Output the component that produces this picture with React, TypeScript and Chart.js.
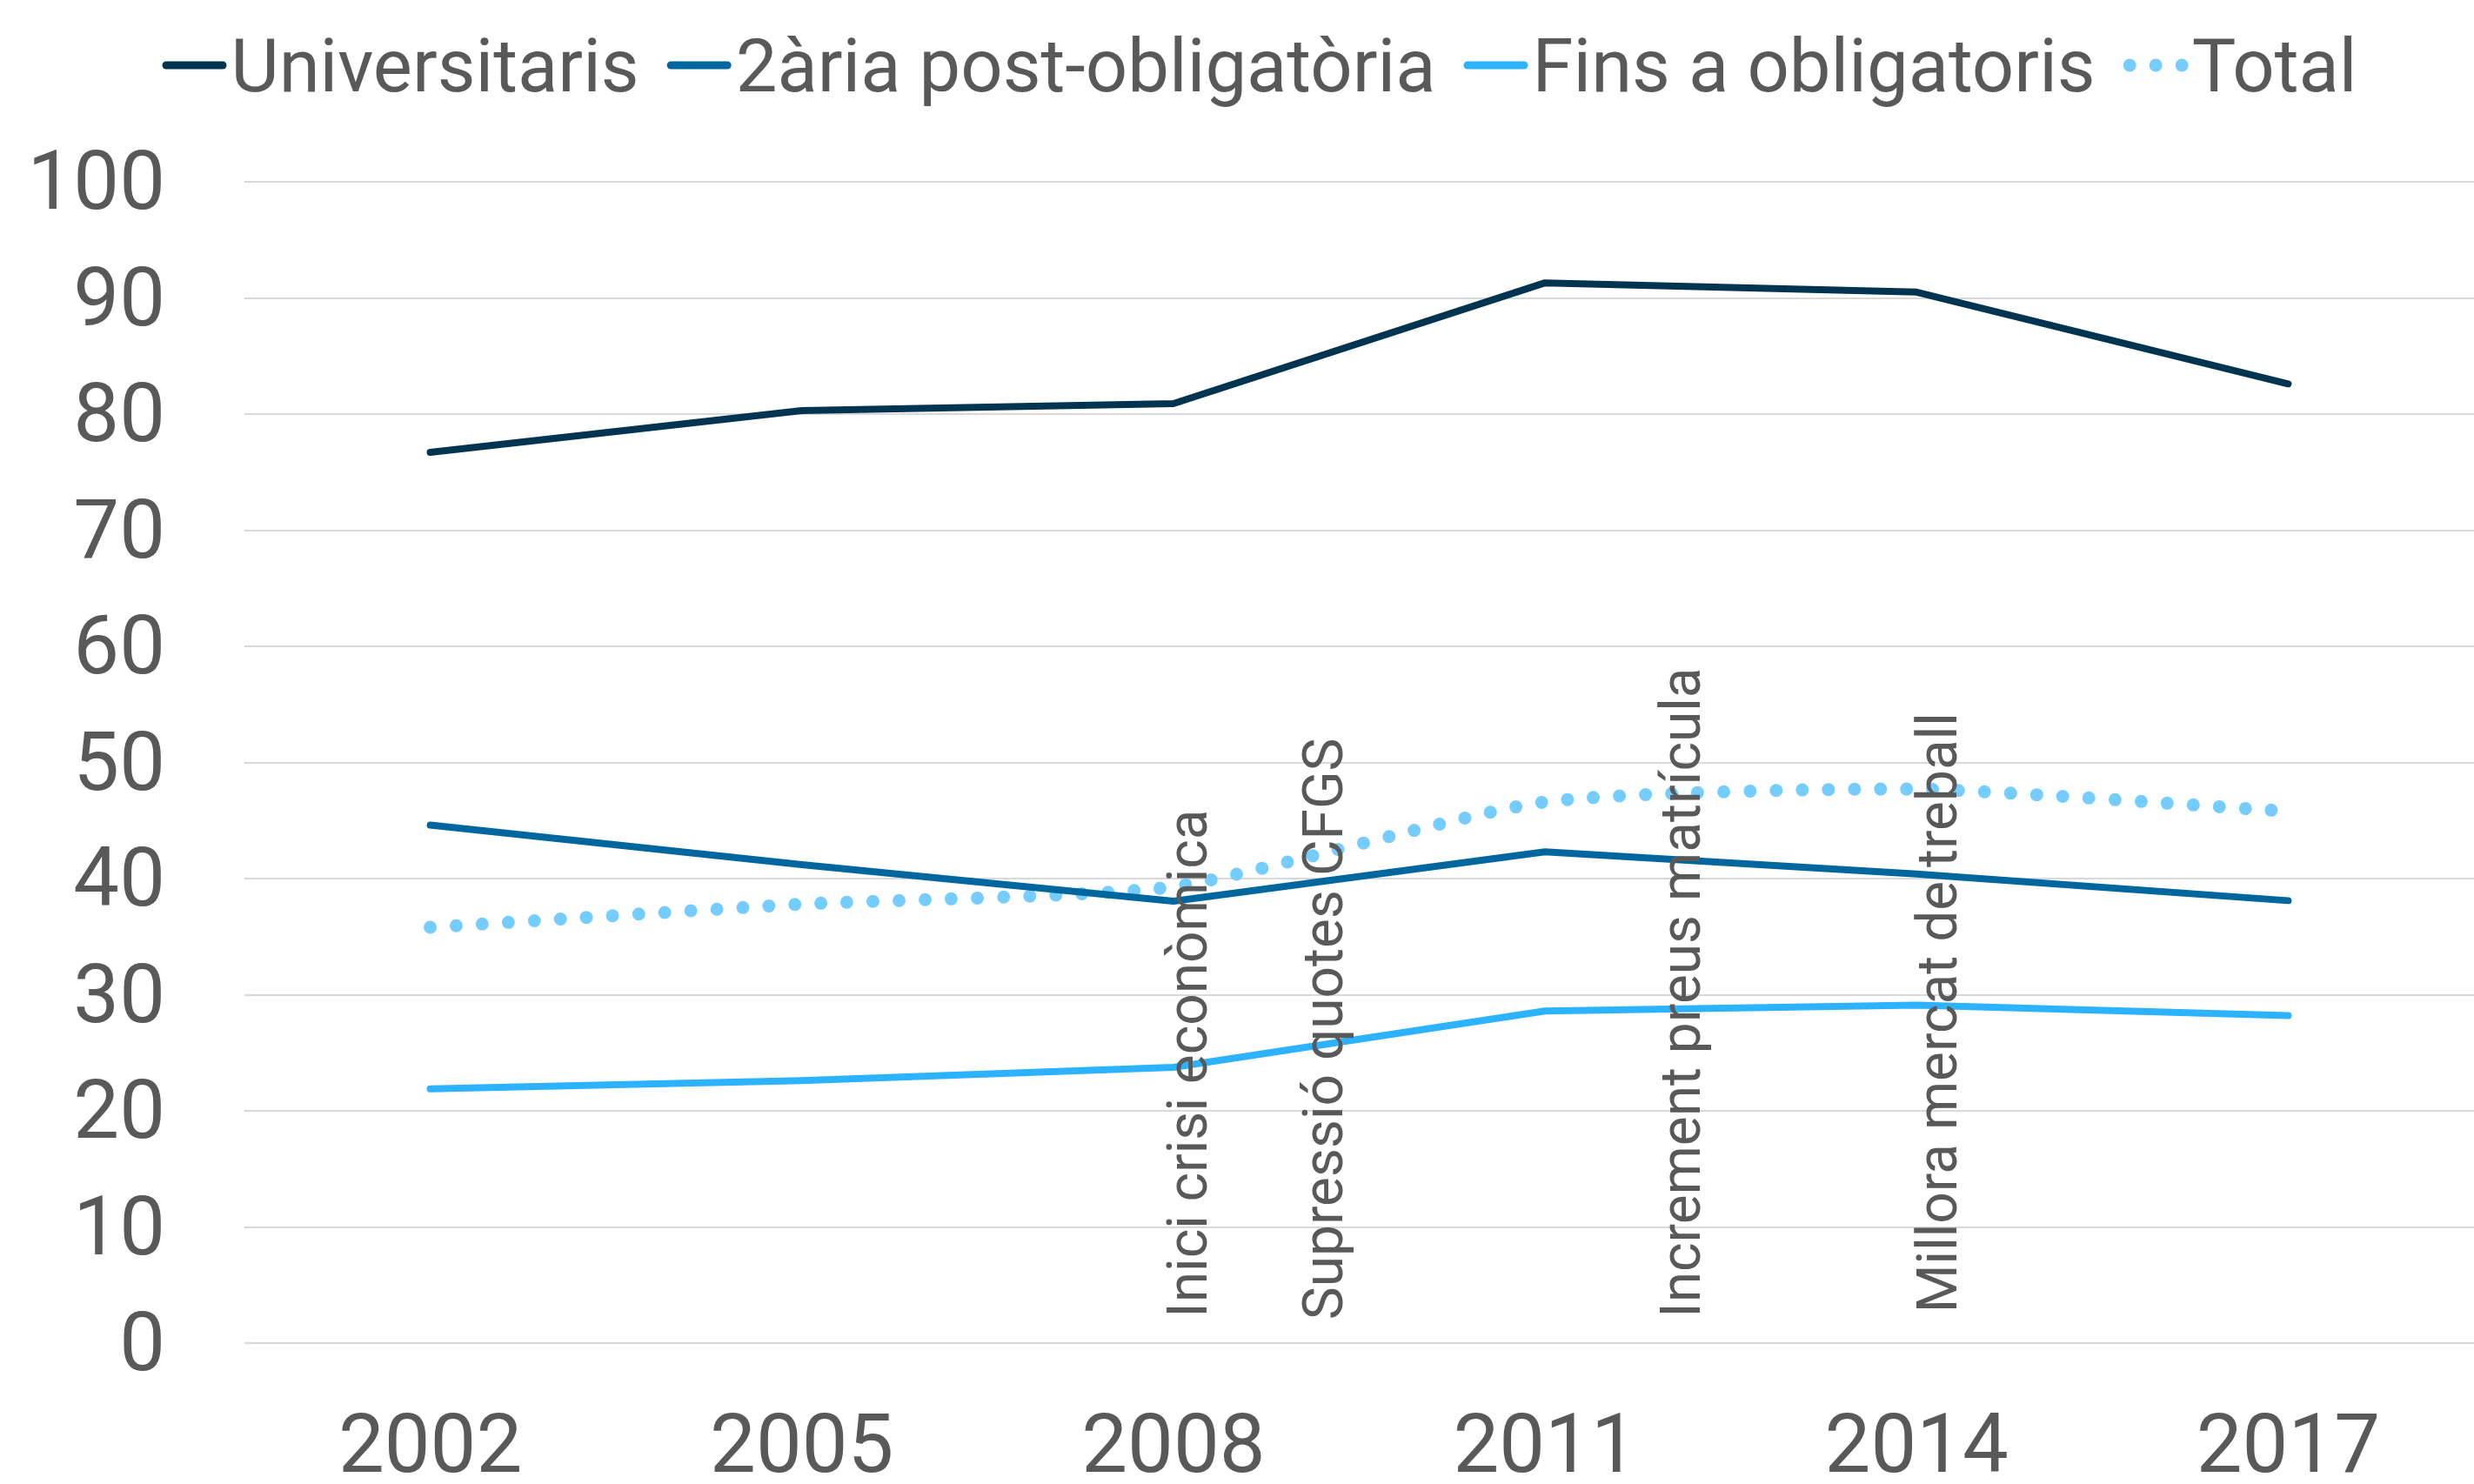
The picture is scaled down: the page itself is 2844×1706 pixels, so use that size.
import React, { useEffect, useRef } from 'react';
import { Chart, registerables } from 'chart.js';

Chart.register(...registerables);

// ---- data ----
const years = ['2002', '2005', '2008', '2011', '2014', '2017'];
const universitaris = [76.7, 80.3, 80.9, 91.3, 90.5, 82.6];
const secundariaPost = [44.6, 41.2, 38.05, 42.3, 40.4, 38.1];
const finsObligatoris = [21.9, 22.6, 23.75, 28.6, 29.1, 28.2];
const total = [35.8, 37.8, 39.3, 46.6, 47.7, 45.8];
const seriesLabels = ['Universitaris', '2ària post-obligatòria', 'Fins a obligatoris', 'Total'];
const yMin = 0;
const yMax = 100;
const yStep = 10;
const annotationYears = [2007.95, 2009.04, 2011.93, 2014];
const annotationLabels = [
  'Inici crisi econòmica',
  'Supressió quotes CFGS',
  'Increment preus matrícula',
  'Millora mercat de treball',
];
const annotationBaseValues = [2.2, 2.0, 2.2, 2.6];

// ---- styles ----
const TEXT = '#595959';
const COLORS = ['#003450', '#00669E', '#2DB2FF', '#75CCFF'];
const FONT = 'Roboto';
const TICK_SIZE = 94;

const legendPlugin = {
  id: 'customLegend',
  afterDraw(chart: any) {
    const ctx = chart.ctx;
    ctx.save();
    ctx.font = `85px ${FONT}`;
    ctx.textBaseline = 'alphabetic';
    ctx.textAlign = 'left';
    const sample = 74;
    const gap = 5;
    const itemGap = 32;
    const widths = seriesLabels.map((l) => ctx.measureText(l).width);
    let totalW = 0;
    widths.forEach((w, i) => {
      totalW += sample + gap + w + (i < widths.length - 1 ? itemGap : 0);
    });
    let x = 1448 - totalW / 2;
    const cy = 75;
    seriesLabels.forEach((label, i) => {
      if (i === 3) {
        ctx.fillStyle = COLORS[i];
        for (let k = 0; k < 3; k++) {
          ctx.beginPath();
          ctx.arc(x + 7.5 + k * 30, cy, 7.5, 0, Math.PI * 2);
          ctx.fill();
        }
      } else {
        ctx.strokeStyle = COLORS[i];
        ctx.lineWidth = 9;
        ctx.lineCap = 'round';
        ctx.beginPath();
        ctx.moveTo(x + 4.5, cy);
        ctx.lineTo(x + sample - 4.5, cy);
        ctx.stroke();
      }
      ctx.fillStyle = TEXT;
      ctx.fillText(label, x + sample + gap, cy + 30);
      x += sample + gap + widths[i] + itemGap;
    });
    ctx.restore();
  },
};

// y tick labels: taken from the y scale's own ticks, vertically centred on the digits
const yLabelPlugin = {
  id: 'yTickLabels',
  afterDraw(chart: any) {
    const ctx = chart.ctx;
    const ys = chart.scales.y;
    ctx.save();
    ctx.font = `${TICK_SIZE}px ${FONT}`;
    ctx.fillStyle = TEXT;
    ctx.textAlign = 'right';
    ctx.textBaseline = 'alphabetic';
    const capHalf = (TICK_SIZE * 0.711) / 2 - 2;
    ys.ticks.forEach((t: any) => {
      const y = ys.getPixelForValue(t.value);
      ctx.fillText(String(t.value), ys.right - 91, y + capHalf);
    });
    ctx.restore();
  },
};

const annotationPlugin = {
  id: 'eventAnnotations',
  afterDatasetsDraw(chart: any) {
    const ctx = chart.ctx;
    const xs = chart.scales.x;
    const ys = chart.scales.y;
    const size = 64;
    const capH = size * 0.711;
    ctx.save();
    ctx.font = `${size}px ${FONT}`;
    ctx.fillStyle = TEXT;
    ctx.textAlign = 'left';
    ctx.textBaseline = 'alphabetic';
    annotationLabels.forEach((label, i) => {
      const idx = (annotationYears[i] - Number(years[0])) / 3;
      const px = xs.getPixelForValue(idx) + capH;
      const py = ys.getPixelForValue(annotationBaseValues[i]);
      ctx.save();
      ctx.translate(px, py);
      ctx.rotate(-Math.PI / 2);
      ctx.fillText(label, 0, 0);
      ctx.restore();
    });
    ctx.restore();
  },
};

export default function App() {
  const ref = useRef<HTMLCanvasElement | null>(null);

  useEffect(() => {
    if (!ref.current) return;
    Chart.defaults.font.family = FONT;
    Chart.defaults.color = TEXT;
    const solid = (label: string, data: number[], color: string) => ({
      label,
      data,
      borderColor: color,
      backgroundColor: color,
      borderWidth: 8,
      borderCapStyle: 'round' as const,
      borderJoinStyle: 'round' as const,
      pointRadius: 0,
      tension: 0,
      fill: false,
    });
    const chart = new Chart(ref.current, {
      type: 'line',
      data: {
        labels: years,
        datasets: [
          solid(seriesLabels[0], universitaris, COLORS[0]),
          solid(seriesLabels[1], secundariaPost, COLORS[1]),
          solid(seriesLabels[2], finsObligatoris, COLORS[2]),
          {
            label: seriesLabels[3],
            data: total,
            borderColor: COLORS[3],
            backgroundColor: COLORS[3],
            borderWidth: 15,
            borderDash: [0, 30],
            borderCapStyle: 'round',
            borderJoinStyle: 'round',
            pointRadius: 0,
            tension: 0.2,
            fill: false,
          },
        ],
      },
      options: {
        animation: false,
        responsive: false,
        devicePixelRatio: 1,
        layout: { padding: { top: 209, left: 0, right: 0, bottom: 0 } },
        plugins: {
          legend: { display: false },
          tooltip: { enabled: false },
          title: { display: false },
        },
        scales: {
          x: {
            offset: true,
            grid: { display: false },
            border: { display: false },
            ticks: {
              color: TEXT,
              font: { size: TICK_SIZE, family: FONT, lineHeight: 1.2 },
              padding: 60,
              maxRotation: 0,
              autoSkip: false,
            },
            afterFit(s: any) {
              s.height = 162;
            },
          },
          y: {
            min: yMin,
            max: yMax,
            grid: { color: '#D9D9D9', lineWidth: 2, drawTicks: false },
            border: { display: false },
            ticks: {
              stepSize: yStep,
              display: false,
            },
            afterFit(s: any) {
              s.width = 281;
            },
          },
        },
      },
      plugins: [legendPlugin, yLabelPlugin, annotationPlugin],
    });
    return () => chart.destroy();
  }, []);

  return (
    <div style={{ position: 'absolute', left: 0, top: 0, width: 2844, height: 1706, background: '#fff' }}>
      <canvas ref={ref} width={2844} height={1706} style={{ display: 'block', width: 2844, height: 1706 }} />
    </div>
  );
}
